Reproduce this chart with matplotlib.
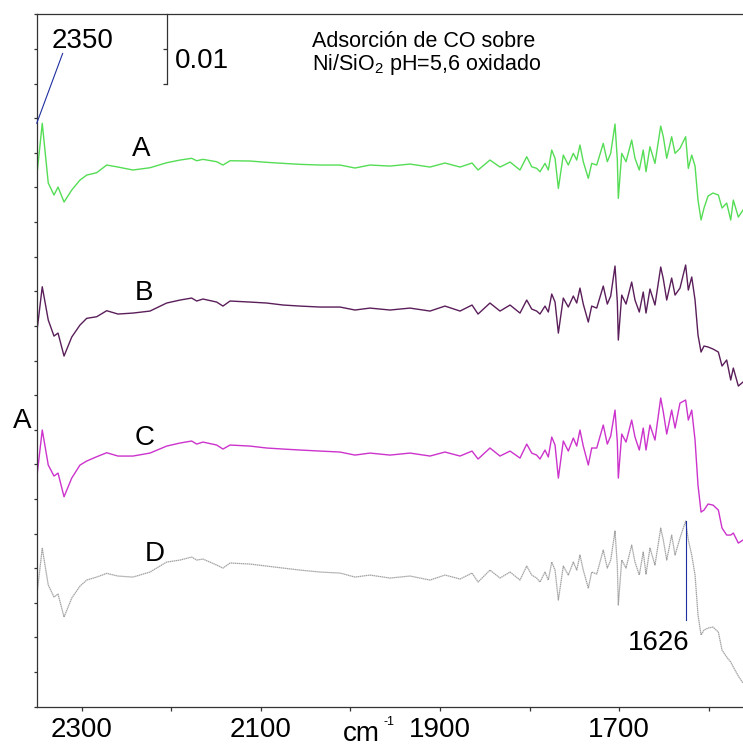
import matplotlib
matplotlib.use('Agg')
import matplotlib.pyplot as plt
from matplotlib import font_manager
import numpy as np

# IR spectra of CO adsorbed on Ni/SiO2 (pH=5.6, oxidised), four stages A-D
# absorbance in milli-absorbance units, offset per spectrum as plotted

wavenumber = [
    2350.0, 2343.8, 2337.1, 2330.7, 2326.2, 2319.5, 2310.9, 2301.7, 2294.2, 2283.1, 2271.9, 2259.3,
    2242.6, 2223.6, 2205.0, 2190.1, 2177.1, 2171.5, 2164.5, 2149.2, 2142.2, 2134.3, 2112.0, 2093.4,
    2074.9, 2056.2, 2033.9, 2011.6, 1994.9, 1978.2, 1955.8, 1933.5, 1911.2, 1894.5, 1877.7, 1864.3,
    1857.6, 1844.3, 1833.1, 1821.9,
    1810.8, 1803.3, 1797.7, 1792.2, 1788.5, 1782.9, 1779.2, 1775.4, 1771.7, 1768.0, 1762.5, 1756.9,
    1751.3, 1747.5, 1743.9, 1740.2, 1734.6, 1730.8, 1725.2, 1717.9, 1713.4, 1709.6, 1704.8, 1702.2,
    1701.1, 1697.3, 1692.5, 1686.2, 1682.5, 1677.7, 1673.3, 1670.2, 1665.8, 1660.2, 1653.8, 1650.9,
    1647.1, 1641.6, 1637.8, 1632.3, 1626.0, 1623.0, 1619.2,
    1615.5, 1612.2, 1608.8, 1605.5, 1601.0, 1595.5, 1589.5, 1585.4, 1580.2, 1575.7, 1572.8, 1567.2,
    1562.0,
]

abs_a = [
    76.50, 84.25, 75.63, 73.90, 75.05, 72.89, 74.62, 76.06, 76.78, 77.12, 78.23, 77.94,
    77.51, 77.84, 78.56, 78.95, 79.20, 78.85, 79.05, 78.71, 78.23, 78.85, 78.81, 78.62,
    78.47, 78.33, 78.23, 78.23, 77.80, 78.23, 78.08, 78.37, 77.94, 78.52, 77.94, 78.52,
    77.51, 78.95, 77.94, 78.66,
    77.51, 79.43, 77.98, 77.75, 77.26, 78.47, 77.51, 80.40, 79.20, 74.86, 79.67, 78.23,
    79.92, 78.95, 81.12, 78.71, 76.31, 78.47, 78.23, 81.36, 78.71, 79.92, 84.15, 78.95,
    73.42, 79.92, 78.71, 81.84, 79.20, 77.51, 80.40, 77.26, 80.87, 78.47, 83.86, 82.32,
    79.20, 82.32, 79.92, 80.64, 82.32, 77.75, 79.67,
    78.08, 73.17, 70.29, 72.02, 73.75, 74.19, 73.90, 72.02, 72.74, 70.29, 73.17, 70.72,
    71.73,
]

abs_b = [
    53.92, 60.65, 55.84, 53.53, 53.96, 50.64, 53.39, 55.12, 56.09, 56.32, 57.19, 56.71,
    56.85, 57.14, 58.30, 58.73, 59.02, 58.59, 58.88, 58.44, 57.86, 58.59, 58.44, 58.30,
    58.01, 57.86, 57.72, 57.72, 57.29, 57.57, 57.29, 57.57, 57.14, 57.86, 57.14, 58.01,
    56.71, 58.30, 57.14, 58.01,
    56.85, 58.73, 57.43, 57.14, 56.71, 57.86, 57.00, 59.60, 58.44, 53.96, 59.02, 57.72,
    59.31, 58.30, 60.46, 58.15, 55.55, 57.86, 57.57, 60.75, 58.15, 59.31, 63.64, 58.44,
    52.95, 59.45, 58.15, 61.33, 58.73, 57.00, 59.89, 56.85, 60.32, 58.01, 63.50, 61.77,
    58.73, 61.91, 59.45, 60.46, 63.79, 60.17, 62.06,
    58.73, 53.68, 51.22, 52.09, 51.95, 51.66, 51.22, 49.20, 50.07, 47.18, 48.91, 46.31,
    46.89,
]

abs_c = [
    32.98, 39.96, 34.90, 33.31, 33.74, 30.32, 33.02, 34.90, 35.48, 36.10, 36.68, 36.20,
    36.20, 36.63, 37.64, 38.08, 38.37, 37.93, 38.22, 37.79, 37.21, 37.79, 37.64, 37.36,
    37.21, 37.07, 36.92, 36.78, 36.34, 36.63, 36.34, 36.63, 36.20, 36.78, 36.20, 36.92,
    35.77, 37.36, 36.20, 36.92,
    35.91, 37.93, 36.63, 36.34, 35.77, 37.07, 36.06, 38.94, 37.79, 33.02, 38.37, 36.92,
    38.80, 37.64, 39.96, 37.64, 34.90, 37.36, 37.36, 40.68, 37.93, 39.09, 42.84, 38.22,
    33.02, 39.38, 38.22, 41.40, 38.94, 37.07, 40.24, 37.07, 40.68, 38.51, 44.58, 42.55,
    39.38, 42.84, 40.24, 43.85, 44.29, 41.40, 42.84,
    38.51, 32.01, 28.11, 28.40, 29.27, 29.12, 28.40, 25.80, 24.79, 24.79, 25.08, 23.63,
    24.07,
]

abs_d = [
    15.88, 22.87, 17.57, 15.84, 16.27, 12.95, 15.69, 17.42, 18.29, 18.72, 19.26, 18.87,
    18.72, 19.45, 20.89, 21.18, 21.61, 21.18, 21.32, 20.46, 20.02, 20.75, 20.60, 20.31,
    20.02, 19.73, 19.45, 19.30, 18.72, 19.01, 18.58, 18.87, 18.29, 19.01, 18.44, 19.30,
    18.00, 19.73, 18.58, 19.45,
    18.29, 20.31, 19.01, 18.58, 18.00, 19.45, 18.29, 20.89, 19.73, 15.40, 20.31, 19.01,
    20.89, 19.73, 21.90, 19.73, 17.14, 19.45, 19.16, 22.62, 20.02, 21.18, 25.37, 20.31,
    14.68, 21.18, 20.02, 23.35, 20.89, 19.01, 22.33, 19.16, 22.91, 20.46, 25.80, 24.07,
    21.18, 24.79, 21.90, 24.36, 26.81, 24.07, 21.90,
    19.01, 13.24, 10.35, 11.07, 11.36, 11.50, 10.78, 8.18, 7.17, 6.45, 5.73, 4.43,
    3.41,
]

series_names = ['A', 'B', 'C', 'D']
series_colors = ['#55dd55', '#5a1e5a', '#cc33cc', '#a3a3a3']

x_ticks = [2300, 2200, 2100, 2000, 1900, 1800, 1700, 1600]
x_tick_labels = ['2300', '', '2100', '', '1900', '', '1700', '']

peak_co2 = 2350
peak_water = 1626
scale_step = 10  # 0.01 absorbance

W, H = 743, 749
names = {f.name for f in font_manager.fontManager.ttflist}
narrow = 'Liberation Sans Narrow' if 'Liberation Sans Narrow' in names else 'Liberation Sans'
big = 23 if narrow.endswith('Narrow') else 20

plt.rcParams['font.family'] = ['Liberation Sans', 'DejaVu Sans']
plt.rcParams['mathtext.fontset'] = 'custom'
plt.rcParams['mathtext.rm'] = 'Liberation Sans'
plt.rcParams['mathtext.it'] = 'Liberation Sans:italic'


def fxy(px, py):
    return px / W, 1 - py / H


fig = plt.figure(figsize=(W / 100, H / 100), dpi=100)
ax = fig.add_axes([36.7 / W, 1 - 706.7 / H, (W - 36.7) / W, (706.7 - 14.3) / H])

ax.plot(wavenumber, abs_a, color=series_colors[0], lw=1.0)
ax.plot(wavenumber, abs_b, color=series_colors[1], lw=1.0)
ax.plot(wavenumber, abs_c, color=series_colors[2], lw=1.0)
ax.plot(wavenumber, abs_d, color=series_colors[3], lw=0.9, ls=(0, (1.2, 0.4)))

ax.set_xlim(2350, 1562)
ax.set_ylim(0, 100)
ax.set_xticks(x_ticks)
ax.set_xticklabels(x_tick_labels)
ax.set_yticks(np.arange(0, 101, 5))
ax.set_yticklabels([])

ax.spines['right'].set_visible(False)
for s in ('left', 'top', 'bottom'):
    ax.spines[s].set_color('#333333')
    ax.spines[s].set_linewidth(0.9)
ax.tick_params(axis='x', direction='out', length=3, width=0.9, color='#333333',
               pad=4.5, labelsize=big)
ax.tick_params(axis='y', direction='out', length=2.2, width=0.9, color='#333333')
for lab in ax.get_xticklabels():
    lab.set_fontfamily(narrow)

# leader lines for the marked bands
ax.annotate('', xy=(peak_co2, abs_a[1]), xytext=fxy(62.7, 53.3), textcoords='figure fraction',
            arrowprops=dict(arrowstyle='-', color='#1f2fa0', lw=0.8, shrinkA=0, shrinkB=0))
i_w = wavenumber.index(peak_water)
ax.plot([peak_water, peak_water], [12.5, abs_d[i_w]], color='#1f2fa0', lw=0.8)

# 0.01 absorbance scale bar hanging from the top frame
sx = 2205
ax.plot([sx, sx], [100 - scale_step, 100], color='#333333', lw=0.9, clip_on=False)
ax.plot([sx, sx], [100 - scale_step / 2, 100 - scale_step], ls='none', marker=0,
        ms=3, mew=0.9, color='#333333', clip_on=False)

fig.text(*fxy(175, 68), '0.01', fontsize=big, family=narrow, va='baseline')
fig.text(*fxy(52, 48), str(peak_co2), fontsize=big, family=narrow, va='baseline')
fig.text(*fxy(690, 650), str(peak_water), fontsize=big, family=narrow, va='baseline', ha='right')

fig.text(*fxy(311.7, 46.7), 'Adsorción de CO sobre', fontsize=15.5, va='baseline')
fig.text(*fxy(311.7, 70), r'Ni/SiO$_{\mathregular{2}}$ pH=5,6 oxidado', fontsize=15.5,
         va='baseline')

# y label and spectrum labels
fig.text(*fxy(13, 428), 'A', fontsize=big, family=narrow, va='baseline')
label_pos = [(131.7, 156), (134.5, 300), (134.5, 445), (144.5, 561)]
for name, (px, py) in zip(series_names, label_pos):
    fig.text(*fxy(px, py), name, fontsize=big, family=narrow, va='baseline')

# x axis unit, written between the 2100 and 1900 labels
fig.text(*fxy(343, 741), 'cm', fontsize=big, family=narrow, va='baseline')
fig.text(*fxy(383, 725), '-1', fontsize=9, family=narrow, va='baseline')

fig.savefig('out.png', dpi=100)
